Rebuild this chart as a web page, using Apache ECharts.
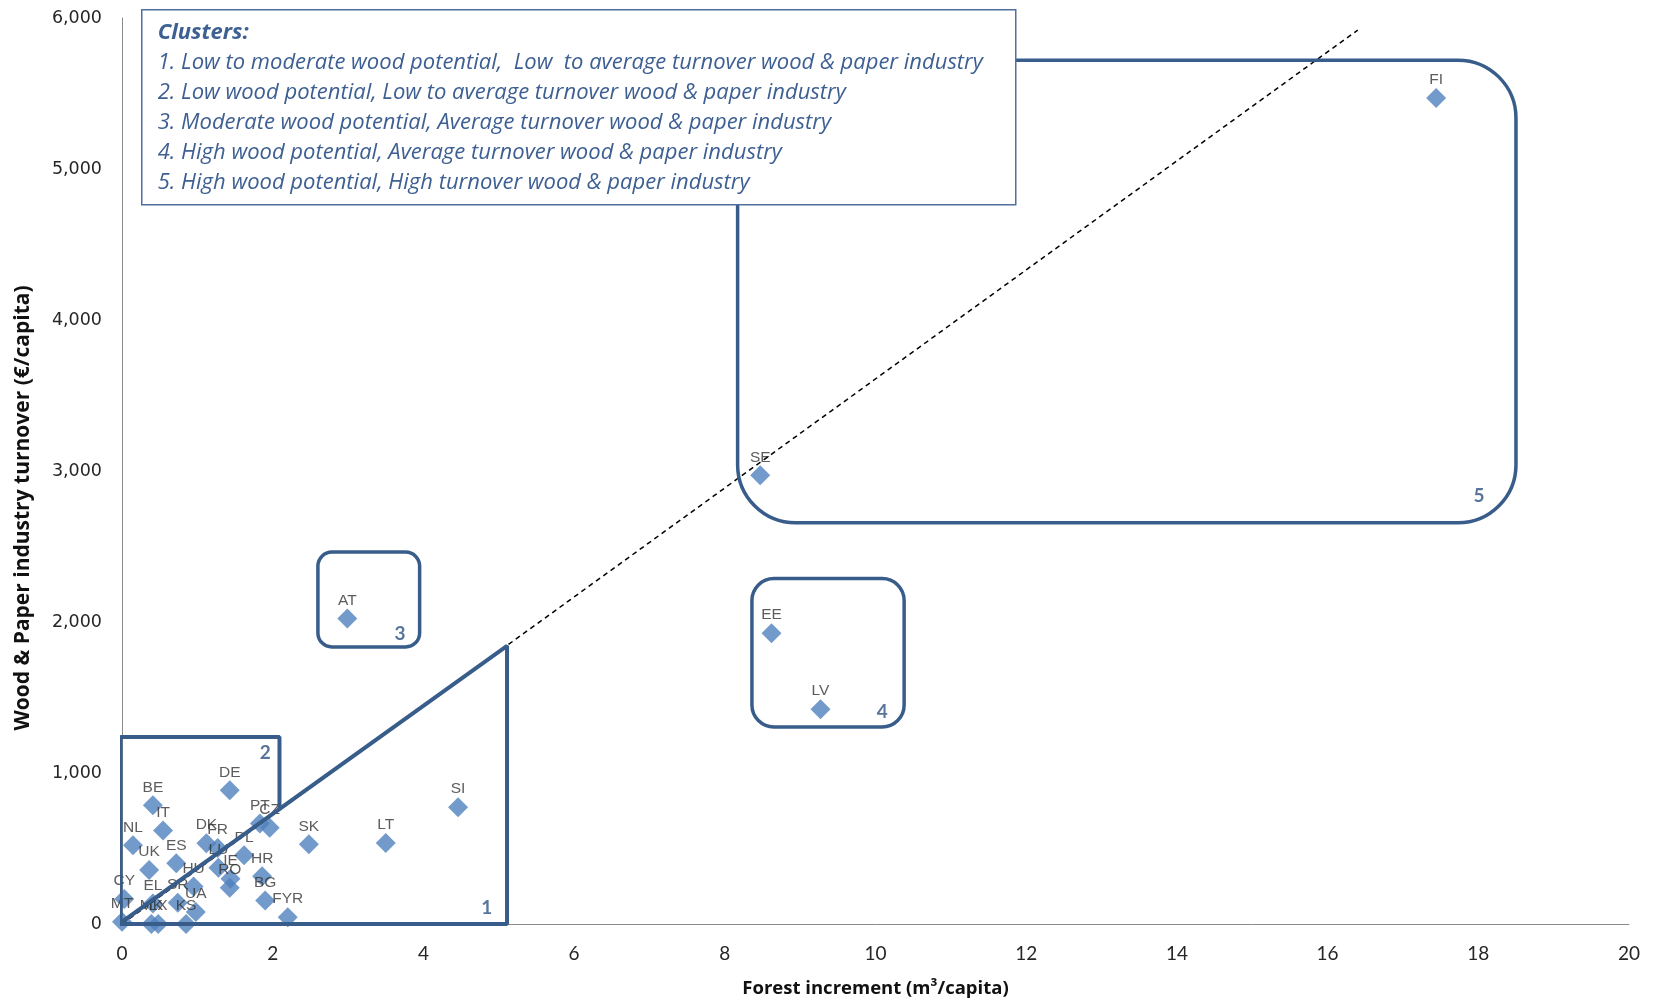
<!DOCTYPE html>
<html>
<head>
<meta charset="utf-8">
<title>Wood potential vs wood &amp; paper industry turnover</title>
<script src="https://cdn.jsdelivr.net/npm/echarts@6/dist/echarts.min.js"></script>
<style>
  html, body { margin: 0; padding: 0; background: #ffffff; }
  #chart { width: 1653px; height: 1003px; }
</style>
</head>
<body>
<div id="chart"></div>
<script>
// Country codes with forest increment (m³/capita) and wood & paper turnover (€/capita)
const countries = ['FI', 'SE', 'AT', 'EE', 'LV', 'SI', 'LT', 'SK', 'DE', 'BE', 'IT', 'NL',
  'DK', 'FR', 'ES', 'UK', 'PT', 'CZ', 'PL', 'LU', 'IE', 'RO', 'HU', 'HR', 'BG', 'FYR',
  'CY', 'MT', 'EL', 'SR', 'UA', 'KS', 'MK', 'LX'];
const forestIncrement = [17.44, 8.47, 2.99, 8.62, 9.27, 4.46, 3.50, 2.48, 1.43, 0.41, 0.545, 0.146,
  1.12, 1.27, 0.72, 0.36, 1.83, 1.96, 1.62, 1.28, 1.44, 1.43, 0.95, 1.86, 1.90, 2.20,
  0.03, 0.0, 0.41, 0.74, 0.98, 0.85, 0.39, 0.48];
const turnover = [5470, 2972, 2023, 1926, 1423, 774, 537, 528, 885, 786, 620, 521,
  535, 503, 402, 357, 665, 638, 455, 372, 300, 240, 248, 316, 155, 45,
  165, 15, 135, 140, 80, 0, 0, 0];

// Axis ticks
const xTicks = [0, 2, 4, 6, 8, 10, 12, 14, 16, 18, 20];
const yTicks = [0, 1000, 2000, 3000, 4000, 5000, 6000];

// Cluster outlines, in axis units
const roundedBoxes = [ // [cluster, x1, yTop, x2, yBottom]
  [3, 2.60, 2463, 3.95, 1835],
  [4, 8.36, 2288, 10.38, 1305],
  [5, 8.17, 5721, 18.50, 2658]
];
const cluster1Outline = [[-0.04, 0], [5.11, 1842], [5.11, 0], [-0.04, 0]];
const cluster2Outline = [[2.09, 753], [2.09, 1239], [-0.02, 1239], [-0.02, 0]];
const clusterTags = [['1', 4.84, 105], ['2', 1.90, 1130], ['3', 3.69, 1919], ['4', 10.09, 1402], ['5', 18.01, 2833]];
const trendLine = [[0, 0], [16.4, 5920]];

const legendLines = [
  'Clusters:',
  '1. Low to moderate wood potential,  Low  to average turnover wood & paper industry',
  '2. Low wood potential, Low to average turnover wood & paper industry',
  '3. Moderate wood potential, Average turnover wood & paper industry',
  '4. High wood potential, Average turnover wood & paper industry',
  '5. High wood potential, High turnover wood & paper industry'
];

const OUTLINE = '#385D8A';
const cornerRadius = { 3: 14, 4: 22, 5: 58 };

const points = countries.map((c, i) => ({ name: c, value: [forestIncrement[i], turnover[i]] }));

// Cluster description box, drawn above the plot
const legendChildren = [{
  type: 'rect',
  z: 100,
  shape: { x: 0, y: 0, width: 874, height: 195 },
  style: { fill: '#ffffff', stroke: '#4F6FA0', lineWidth: 1.5 }
}].concat(legendLines.map((t, i) => ({
  type: 'text',
  z: 101,
  x: 16,
  y: 23 + 30 * i,
  style: {
    text: t,
    fontFamily: 'Open Sans',
    fontSize: 22,
    fontStyle: 'italic',
    fontWeight: i === 0 ? 'bold' : 'normal',
    fill: '#3D5F92',
    verticalAlign: 'middle'
  }
})));

const chart = echarts.init(document.getElementById('chart'), null, { renderer: 'canvas' });

chart.setOption({
  animation: false,
  backgroundColor: '#ffffff',
  grid: { left: 122, right: 24, top: 18, bottom: 78.5, containLabel: false },
  xAxis: {
    type: 'value',
    min: xTicks[0],
    max: xTicks[xTicks.length - 1],
    interval: xTicks[1] - xTicks[0],
    axisLine: { show: true, onZero: false, lineStyle: { color: '#8A8A8A', width: 1 } },
    axisTick: { show: false },
    splitLine: { show: false },
    axisLabel: { margin: 20, fontFamily: 'Lato', fontSize: 19, color: '#262626' },
    name: 'Forest increment (m³/capita)',
    nameLocation: 'middle',
    nameGap: 55,
    nameTextStyle: { fontFamily: 'Open Sans', fontWeight: 'bold', fontSize: 18.5, color: '#111111' }
  },
  yAxis: {
    type: 'value',
    min: yTicks[0],
    max: yTicks[yTicks.length - 1],
    interval: yTicks[1] - yTicks[0],
    axisLine: { show: true, onZero: false, lineStyle: { color: '#8A8A8A', width: 1 } },
    axisTick: { show: false },
    splitLine: { show: false },
    axisLabel: {
      margin: 20, fontFamily: 'DejaVu Sans', fontSize: 17.5, color: '#262626',
      formatter: v => v.toLocaleString('en-US')
    },
    name: 'Wood & Paper industry turnover (€/capita)',
    nameLocation: 'middle',
    nameGap: 88,
    nameTextStyle: { fontFamily: 'Open Sans', fontWeight: 'bold', fontSize: 21, color: '#111111', padding: [0, 74, 0, 0] }
  },
  series: [
    {
      type: 'scatter',
      name: 'Countries',
      z: 2,
      clip: false,
      symbol: 'diamond',
      symbolSize: 20,
      itemStyle: { color: '#4F81BD' },
      label: {
        show: true,
        position: 'top',
        distance: 0,
        formatter: p => p.name,
        fontFamily: 'Liberation Sans',
        fontSize: 15.5,
        color: '#333333'
      },
      data: points
    },
    {
      type: 'line',
      name: 'Trend',
      z: 3,
      clip: false,
      symbol: 'none',
      lineStyle: { color: '#000000', width: 1.5, type: [5, 4] },
      data: trendLine
    },
    {
      type: 'line',
      name: 'Cluster 1',
      z: 4,
      clip: false,
      symbol: 'none',
      lineStyle: { color: OUTLINE, width: 4 },
      data: cluster1Outline
    },
    {
      type: 'line',
      name: 'Cluster 2',
      z: 4,
      clip: false,
      symbol: 'none',
      lineStyle: { color: OUTLINE, width: 4 },
      data: cluster2Outline
    },
    {
      type: 'custom',
      name: 'Clusters 3-5',
      z: 4,
      clip: false,
      encode: { x: [1, 3], y: [2, 4] },
      data: roundedBoxes,
      renderItem: (params, api) => {
        const a = api.coord([api.value(1), api.value(2)]);
        const b = api.coord([api.value(3), api.value(4)]);
        return {
          type: 'rect',
          shape: {
            x: Math.min(a[0], b[0]), y: Math.min(a[1], b[1]),
            width: Math.abs(b[0] - a[0]), height: Math.abs(b[1] - a[1]),
            r: cornerRadius[api.value(0)]
          },
          style: { fill: 'none', stroke: OUTLINE, lineWidth: 3.5 }
        };
      }
    },
    {
      type: 'scatter',
      name: 'Cluster numbers',
      z: 5,
      clip: false,
      silent: true,
      symbolSize: 0,
      label: {
        show: true,
        position: 'inside',
        formatter: p => p.name,
        fontFamily: 'Lato',
        fontWeight: 'bold',
        fontSize: 19,
        color: '#2F5283'
      },
      data: clusterTags.map(t => ({ name: t[0], value: [t[1], t[2]] }))
    }
  ],
  graphic: [{
    type: 'group',
    left: 141,
    top: 9,
    z: 100,
    children: legendChildren
  }]
});
</script>
</body>
</html>
